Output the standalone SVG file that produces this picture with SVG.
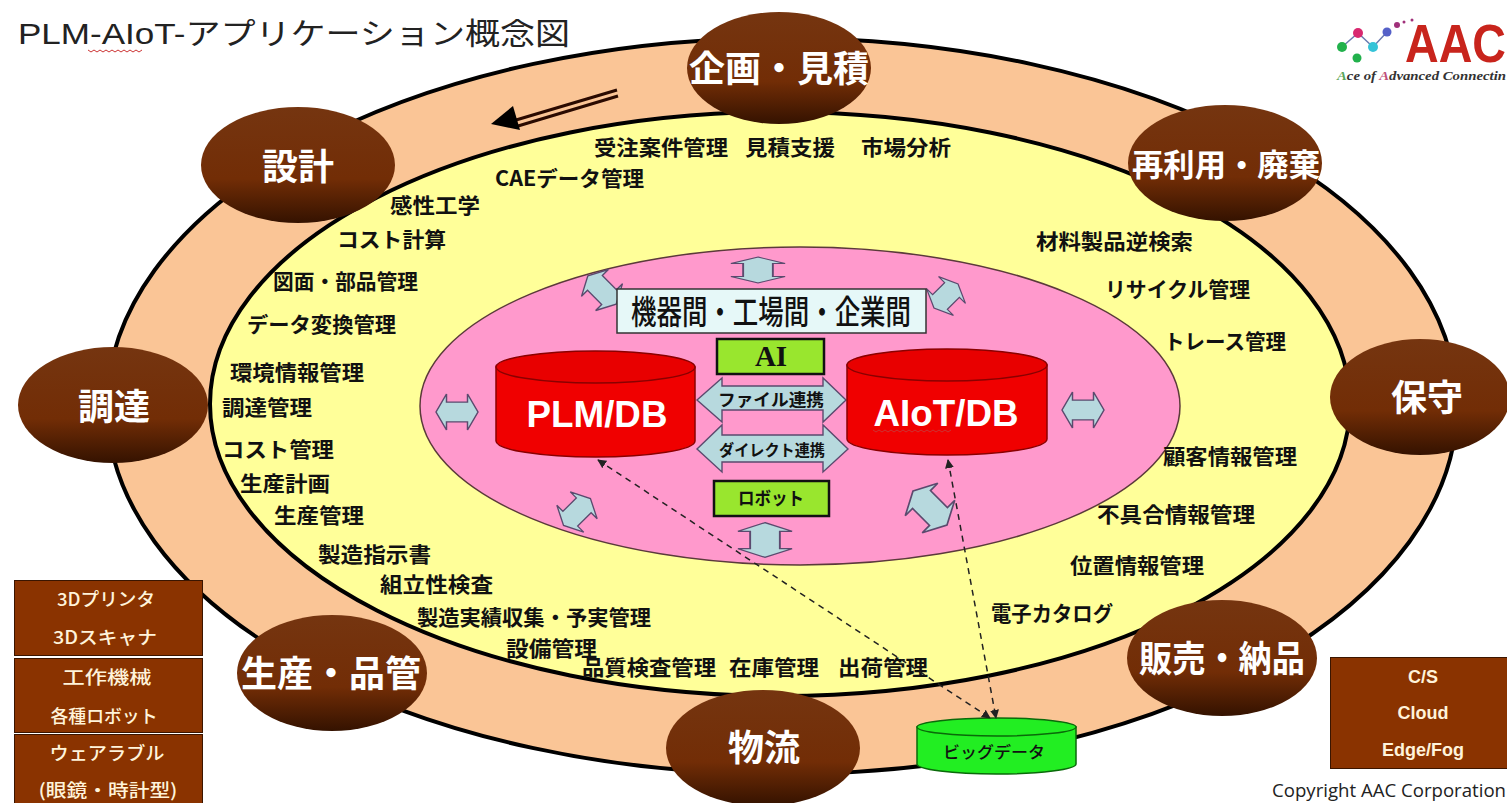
<svg xmlns="http://www.w3.org/2000/svg" width="1507" height="803" viewBox="0 0 1507 803">
<style>
text{font-family:"Noto Sans CJK JP","Liberation Sans",sans-serif}
.lb{font-size:21px;font-weight:700;fill:#111}
.nt{font-weight:700;fill:#fff;text-anchor:middle;font-size:36px}
.nd{fill:url(#br);stroke:none}
.bx{fill:#8a3300;stroke:#3a1500;stroke-width:1}
.bt{font-size:18px;fill:#fff3da;text-anchor:middle;font-weight:500}
.be{font-family:"Liberation Sans",sans-serif;font-weight:700;font-size:18px;fill:#fff3da;text-anchor:middle}
.ar{fill:#b7d9de;stroke:#5b4a6e;stroke-width:1.4}
.cy{fill:#f00000;stroke:#8a0000;stroke-width:1.5}
.ct{fill:#e80000;stroke:#8a0000;stroke-width:1.5}
.db{font-family:"Liberation Sans",sans-serif;font-weight:700;font-size:36px;fill:#fff;text-anchor:middle}
.gb{fill:#99e62e;stroke:#111;stroke-width:2.5}
.dl{fill:none;stroke:#222;stroke-width:1.5;stroke-dasharray:6 5}
.sq{fill:none;stroke:#c33;stroke-width:1}
</style>
<defs>
<linearGradient id="br" x1="0" y1="0" x2="0" y2="1"><stop offset="0" stop-color="#753510"/><stop offset="0.62" stop-color="#722d06"/><stop offset="1" stop-color="#341200"/></linearGradient>
<path id="da" d="M-20 0L-10 -20L-10 -11L10 -11L10 -20L20 0L10 20L10 11L-10 11L-10 20Z"/>
<marker id="mh" viewBox="0 0 10 10" refX="9" refY="5" markerWidth="9" markerHeight="9" markerUnits="userSpaceOnUse" orient="auto-start-reverse"><path d="M0 0L10 5L0 10Z" fill="#222"/></marker>
</defs>
<rect width="1507" height="803" fill="#fff"/>
<text x="18" y="44" font-size="30" fill="#222" textLength="552" lengthAdjust="spacingAndGlyphs" style="font-family:'Liberation Sans','Noto Sans CJK JP',sans-serif">PLM-AIoT-アプリケーション概念図</text>
<path class="sq" d="M88 50l3 2l3-2l3 2l3-2l3 2l3-2l3 2l3-2l3 2l3-2l3 2l3-2l3 2l3-2l3 2l3-2l3 2l3-2"/>
<g id="logo">
<path d="M1342 47L1358 33L1373 47L1387 32" fill="none" stroke="#6a7ab0" stroke-width="1.5"/>
<circle cx="1342" cy="47" r="5" fill="#22b14c"/><circle cx="1358" cy="33" r="5" fill="#d8286f"/><circle cx="1373" cy="47" r="5" fill="#35c3d8"/><circle cx="1387" cy="32" r="4.500" fill="#5560c8"/><circle cx="1357" cy="58" r="4.500" fill="#22b14c"/><circle cx="1397" cy="25" r="3" fill="#a0307a"/><circle cx="1404" cy="22" r="1.500" fill="#a0307a"/><circle cx="1412" cy="20" r="1.500" fill="#a0307a"/>
<text x="1405" y="62" font-size="54" font-weight="700" fill="#c8241c" textLength="101" lengthAdjust="spacingAndGlyphs" style="font-family:'Liberation Sans',sans-serif">AAC</text>
<text x="1337" y="80" font-size="13.500" fill="#333" font-style="italic" font-weight="700" textLength="169" lengthAdjust="spacingAndGlyphs" style="font-family:'Liberation Serif',serif"><tspan fill="#5aa55a">A</tspan>ce of <tspan fill="#c0507a">A</tspan>dvanced Connectin</text>
</g>
<g id="rings">
<ellipse cx="782" cy="406" rx="675" ry="368" fill="#fac596" stroke="#000" stroke-width="4"/>
<ellipse cx="780" cy="404" rx="570" ry="292" fill="#ffff99" stroke="#000" stroke-width="4"/>
<ellipse cx="800" cy="406" rx="380" ry="159" fill="#ff99cc" stroke="#5b3a3a" stroke-width="1.500"/>
</g>
<g id="flow-arrow">
<path d="M617 90L516 120M618 96L518 126" stroke="#2a0a00" stroke-width="3"/>
<path d="M491 124L513 106L520 130Z" fill="#000"/>
</g>
<g id="labels">
<text class="lb" x="594" y="155" textLength="134" lengthAdjust="spacingAndGlyphs">受注案件管理</text>
<text class="lb" x="745" y="155" textLength="90" lengthAdjust="spacingAndGlyphs">見積支援</text>
<text class="lb" x="861" y="155" textLength="90" lengthAdjust="spacingAndGlyphs">市場分析</text>
<text class="lb" x="495" y="186" textLength="149" lengthAdjust="spacingAndGlyphs">CAEデータ管理</text>
<text class="lb" x="390" y="213" textLength="90" lengthAdjust="spacingAndGlyphs">感性工学</text>
<text class="lb" x="337" y="247" textLength="109" lengthAdjust="spacingAndGlyphs">コスト計算</text>
<text class="lb" x="273" y="289" textLength="145" lengthAdjust="spacingAndGlyphs">図面・部品管理</text>
<text class="lb" x="247" y="332" textLength="149" lengthAdjust="spacingAndGlyphs">データ変換管理</text>
<text class="lb" x="230" y="380" textLength="134" lengthAdjust="spacingAndGlyphs">環境情報管理</text>
<text class="lb" x="222" y="415" textLength="90" lengthAdjust="spacingAndGlyphs">調達管理</text>
<text class="lb" x="222" y="457" textLength="112" lengthAdjust="spacingAndGlyphs">コスト管理</text>
<text class="lb" x="240" y="491" textLength="90" lengthAdjust="spacingAndGlyphs">生産計画</text>
<text class="lb" x="274" y="523" textLength="90" lengthAdjust="spacingAndGlyphs">生産管理</text>
<text class="lb" x="318" y="562" textLength="113" lengthAdjust="spacingAndGlyphs">製造指示書</text>
<text class="lb" x="380" y="592" textLength="113" lengthAdjust="spacingAndGlyphs">組立性検査</text>
<text class="lb" x="417" y="625" textLength="234" lengthAdjust="spacingAndGlyphs">製造実績収集・予実管理</text>
<text class="lb" x="506" y="656" textLength="91" lengthAdjust="spacingAndGlyphs">設備管理</text>
<text class="lb" x="582" y="675" textLength="134" lengthAdjust="spacingAndGlyphs">品質検査管理</text>
<text class="lb" x="729" y="675" textLength="90" lengthAdjust="spacingAndGlyphs">在庫管理</text>
<text class="lb" x="838" y="675" textLength="90" lengthAdjust="spacingAndGlyphs">出荷管理</text>
<text class="lb" x="1036" y="249" textLength="157" lengthAdjust="spacingAndGlyphs">材料製品逆検索</text>
<text class="lb" x="1105" y="297" textLength="145" lengthAdjust="spacingAndGlyphs">リサイクル管理</text>
<text class="lb" x="1164" y="349" textLength="122" lengthAdjust="spacingAndGlyphs">トレース管理</text>
<text class="lb" x="1163" y="464" textLength="134" lengthAdjust="spacingAndGlyphs">顧客情報管理</text>
<text class="lb" x="1097" y="522" textLength="158" lengthAdjust="spacingAndGlyphs">不具合情報管理</text>
<text class="lb" x="1070" y="573" textLength="134" lengthAdjust="spacingAndGlyphs">位置情報管理</text>
<text class="lb" x="991" y="621" textLength="122" lengthAdjust="spacingAndGlyphs">電子カタログ</text>
</g>
<g id="exchange-arrows">
<use href="#da" class="ar" transform="translate(758 270) rotate(90) scale(.65 1.35)"/>
<use href="#da" class="ar" transform="translate(457 412) scale(1.05 .9)"/>
<use href="#da" class="ar" transform="translate(1083 410) scale(1.05 .9)"/>
<use href="#da" class="ar" transform="translate(765 540) rotate(90) scale(.87 1.35)"/>
<use href="#da" class="ar" transform="translate(602 290) rotate(45) scale(1 .95)"/>
<use href="#da" class="ar" transform="translate(946 296) rotate(-45) scale(.85 .95)"/>
<use href="#da" class="ar" transform="translate(577 512) rotate(-45) scale(.95 .95)"/>
<use href="#da" class="ar" transform="translate(930 508) rotate(45) scale(1.2 1.15)"/>
</g>
<g id="node-shared"><rect x="617" y="289" width="309" height="44" fill="#e6f8f8" stroke="#333" stroke-width="1.500"/><text x="771" y="324" font-size="33" font-weight="500" fill="#111" text-anchor="middle" textLength="280" lengthAdjust="spacingAndGlyphs">機器間・工場間・企業間</text></g>
<g id="node-ai"><rect class="gb" x="717" y="339" width="107" height="35"/><text x="771" y="366" font-size="29" font-weight="700" fill="#111" text-anchor="middle" style="font-family:'Liberation Serif',serif">AI</text></g>
<g id="node-file"><path class="ar" d="M697 400L722 378V386H823V378L846 400L823 422V410H722V422Z"/><text x="771" y="406" font-size="17" font-weight="700" fill="#111" text-anchor="middle" textLength="106" lengthAdjust="spacingAndGlyphs">ファイル連携</text></g>
<g id="node-direct"><path class="ar" d="M697 449L722 425V435H823V425L848 449L823 472V462H722V472Z"/><text x="772" y="456" font-size="16" font-weight="700" fill="#111" text-anchor="middle" textLength="106" lengthAdjust="spacingAndGlyphs">ダイレクト連携</text></g>
<g id="node-robot"><rect class="gb" x="714" y="481" width="115" height="35"/><text x="771" y="505" font-size="18" font-weight="700" fill="#111" text-anchor="middle" textLength="66" lengthAdjust="spacingAndGlyphs">ロボット</text></g>
<g id="node-plm"><path class="cy" d="M496 367V441A99.500 16 0 0 0 695 441V367Z"/><ellipse class="ct" cx="595.500" cy="367" rx="99.500" ry="16"/><text class="db" x="597" y="427" textLength="141" lengthAdjust="spacingAndGlyphs">PLM/DB</text></g>
<g id="node-aiot"><path class="cy" d="M847 365V439A100 16 0 0 0 1047 439V365Z"/><ellipse class="ct" cx="947" cy="365" rx="100" ry="16"/><text class="db" x="946" y="426" textLength="145" lengthAdjust="spacingAndGlyphs">AIoT/DB</text><path class="sq" d="M873 430l3 2l3-2l3 2l3-2l3 2l3-2l3 2l3-2l3 2l3-2l3 2l3-2l3 2l3-2l3 2l3-2l3 2l3-2l3 2l3-2l3 2l3-2l3 2l3-2l3 2l3-2"/></g>
<g id="node-bigdata"><path d="M917 727V764A79.500 10 0 0 0 1076 764V727Z" fill="#22ee22" stroke="#0a6a0a" stroke-width="1.500"/><ellipse cx="996.500" cy="727" rx="79.500" ry="9" fill="#22ee22" stroke="#0a6a0a" stroke-width="1.500"/><text x="994" y="758" font-size="16" font-weight="500" fill="#111" text-anchor="middle" textLength="102" lengthAdjust="spacingAndGlyphs">ビッグデータ</text></g>
<g id="connectors">
<path class="dl" d="M598 460L990 718" marker-start="url(#mh)" marker-end="url(#mh)"/>
<path class="dl" d="M948 460L996 718" marker-start="url(#mh)" marker-end="url(#mh)"/>
</g>
<g id="node-plan"><ellipse class="nd" cx="779" cy="68" rx="92" ry="56"/><text class="nt" x="779" y="82" textLength="180" lengthAdjust="spacingAndGlyphs">企画・見積</text></g>
<g id="node-reuse"><ellipse class="nd" cx="1225" cy="163" rx="97" ry="58"/><text class="nt" x="1226" y="176" style="font-size:31px" textLength="188" lengthAdjust="spacingAndGlyphs">再利用・廃棄</text></g>
<g id="node-maint"><ellipse class="nd" cx="1420" cy="397" rx="90" ry="58"/><text class="nt" x="1427" y="411">保守</text></g>
<g id="node-sales"><ellipse class="nd" cx="1222" cy="658" rx="95" ry="58"/><text class="nt" x="1222" y="672" textLength="166" lengthAdjust="spacingAndGlyphs">販売・納品</text></g>
<g id="node-logistics"><ellipse class="nd" cx="763" cy="748" rx="97" ry="58"/><text class="nt" x="764" y="761">物流</text></g>
<g id="node-prod"><ellipse class="nd" cx="332" cy="673" rx="95" ry="58"/><text class="nt" x="331" y="687" textLength="180" lengthAdjust="spacingAndGlyphs">生産・品管</text></g>
<g id="node-procure"><ellipse class="nd" cx="113" cy="405" rx="95" ry="58"/><text class="nt" x="114" y="420">調達</text></g>
<g id="node-design"><ellipse class="nd" cx="298" cy="165" rx="97" ry="58"/><text class="nt" x="298" y="180">設計</text></g>
<g id="node-printer"><rect class="bx" x="14.500" y="580.500" width="188" height="75"/><text class="bt" x="106" y="606" textLength="98" lengthAdjust="spacingAndGlyphs">3Dプリンタ</text><text class="bt" x="105" y="644" textLength="104" lengthAdjust="spacingAndGlyphs">3Dスキャナ</text></g>
<g id="node-machine"><rect class="bx" x="14.500" y="658.500" width="188" height="74"/><text class="bt" x="107" y="684" textLength="89" lengthAdjust="spacingAndGlyphs">工作機械</text><text class="bt" x="104" y="723" textLength="107" lengthAdjust="spacingAndGlyphs">各種ロボット</text></g>
<g id="node-wear"><rect class="bx" x="14.500" y="734.500" width="188" height="70"/><text class="bt" x="107" y="760" textLength="115" lengthAdjust="spacingAndGlyphs">ウェアラブル</text><text class="bt" x="108" y="797" textLength="139" lengthAdjust="spacingAndGlyphs">(眼鏡・時計型)</text></g>
<g id="node-cloud"><rect class="bx" x="1330.500" y="657.500" width="180" height="111" stroke="none"/><text class="be" x="1423" y="683">C/S</text><text class="be" x="1423" y="719">Cloud</text><text class="be" x="1423" y="756">Edge/Fog</text></g>
<text x="1272" y="797" font-size="18" fill="#222" textLength="234" lengthAdjust="spacingAndGlyphs" style="font-family:'Open Sans',sans-serif">Copyright AAC Corporation</text>
</svg>
